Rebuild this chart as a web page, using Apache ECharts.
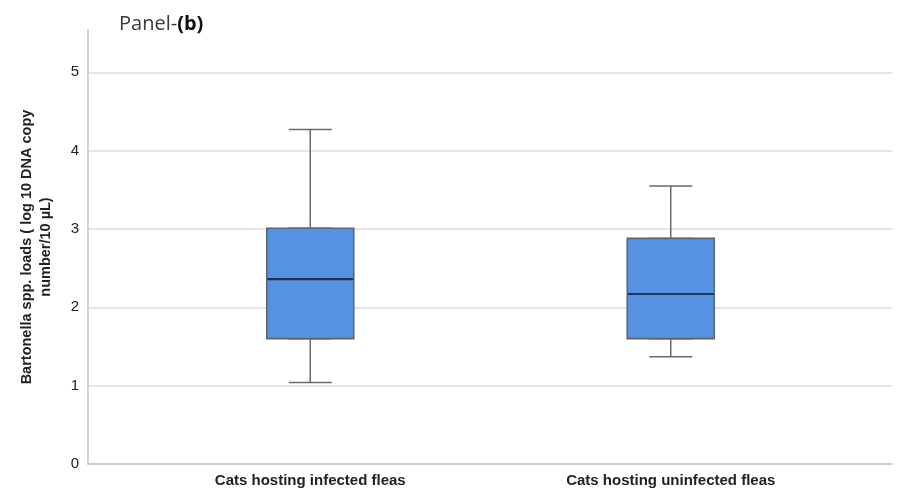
<!DOCTYPE html>
<html><head><meta charset="utf-8">
<script src="https://cdn.jsdelivr.net/npm/echarts@6/dist/echarts.min.js"></script>
<style>html,body{margin:0;padding:0;background:#fff}#c{width:899px;height:490px}</style>
</head><body><div id="c"></div>
<script>
const categories = ['Cats hosting infected fleas', 'Cats hosting uninfected fleas'];
// [min, Q1, median, Q3, max]
const boxStats = [
  [1.04, 1.60, 2.36, 3.01, 4.27],
  [1.37, 1.60, 2.17, 2.88, 3.55]
];
const yTicks = [0, 1, 2, 3, 4, 5];
const yMax = 5.54;

const chart = echarts.init(document.getElementById('c'));
const boxOnly = boxStats.map(d => [d[1], d[1], d[2], d[3], d[3]]);
const medians = boxStats.map((d, i) => [i, d[2]]);
const innerGrid = { left: 130, right: 48, top: 30, bottom: 26 };
const hiddenCat = gi => ({ type: 'category', gridIndex: gi, data: categories, show: false });
const hiddenVal = gi => ({ type: 'value', gridIndex: gi, min: 0, max: yMax, show: false });
chart.setOption({
  animation: false,
  title: {
    text: '{a|Panel-}{b|(b)}',
    left: 114, top: 9,
    textStyle: { rich: {
      a: { fontFamily: 'Open Sans', fontSize: 20, fontWeight: 'normal', color: '#3a3a3a' },
      b: { fontFamily: 'Open Sans', fontSize: 20, fontWeight: 'bold', color: '#111' }
    } }
  },
  grid: [
    { left: 88, right: 7, top: 30, bottom: 26 },
    innerGrid, innerGrid, innerGrid
  ],
  xAxis: [
    { type: 'value', gridIndex: 0, min: 0, max: 1,
      axisLine: { show: true, lineStyle: { color: '#c4c4c4', width: 1.5 } },
      axisTick: { show: false }, axisLabel: { show: false }, splitLine: { show: false } },
    { type: 'category', gridIndex: 1, data: categories,
      axisLine: { show: false }, axisTick: { show: false },
      axisLabel: { margin: 9, fontFamily: 'Liberation Sans', fontWeight: 'bold', fontSize: 15, color: '#222' } },
    hiddenCat(2), hiddenCat(3)
  ],
  yAxis: [
    { type: 'value', gridIndex: 0, min: 0, max: yMax, interval: 1,
      axisLine: { show: true, lineStyle: { color: '#c4c4c4', width: 1.5 } },
      axisTick: { show: false },
      axisLabel: { margin: 9, fontFamily: 'Liberation Sans', fontSize: 15, color: '#222',
        formatter: v => yTicks.includes(v) ? String(v) : '' },
      splitLine: { showMaxLine: false, lineStyle: { color: '#dcdcdc', width: 1.5 } },
      name: 'Bartonella spp. loads ( log 10 DNA copy\nnumber/10 µL)',
      nameLocation: 'middle', nameGap: 33,
      nameTextStyle: { fontFamily: 'Liberation Sans', fontWeight: 'bold', fontSize: 14.5, color: '#222', lineHeight: 19, align: 'center' } },
    hiddenVal(1), hiddenVal(2), hiddenVal(3)
  ],
  series: [
    { type: 'boxplot', xAxisIndex: 1, yAxisIndex: 1, data: boxStats, boxWidth: [43, 43], z: 2,
      itemStyle: { color: '#5592e3', borderColor: '#6a6a6a', borderWidth: 1.5 } },
    { type: 'boxplot', xAxisIndex: 2, yAxisIndex: 2, data: boxOnly, boxWidth: [87, 87], z: 3,
      itemStyle: { color: '#5592e3', borderColor: '#5f6670', borderWidth: 1.6 } },
    { type: 'scatter', xAxisIndex: 3, yAxisIndex: 3, data: medians, z: 4,
      symbol: 'rect', symbolSize: [86, 2.2], itemStyle: { color: '#15233d' } }
  ]
});
</script></body></html>
